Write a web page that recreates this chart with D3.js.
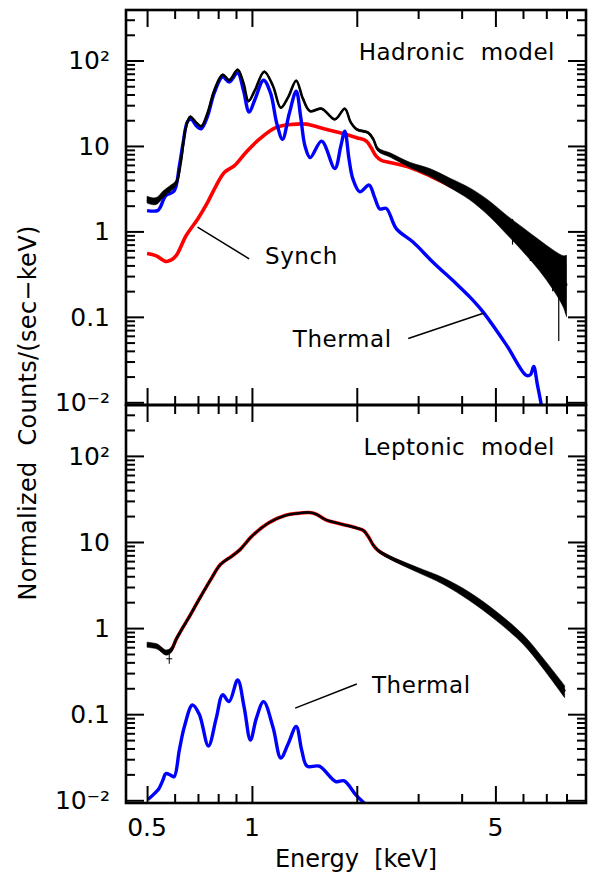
<!DOCTYPE html>
<html>
<head>
<meta charset="utf-8">
<script src="https://cdn.jsdelivr.net/npm/d3@7"></script>
<style>
  body { margin: 0; background: #fff; }
  text { font-family: 'DejaVu Sans', sans-serif; fill: #000; white-space: pre; }
</style>
</head>
<body>
<div id="chart"></div>
<script>
// ---- data: [energy keV, counts/s/keV, half-width of scatter in dex] ----
const hadData = [
  [0.50, 2.35, 0.04], [0.52, 2.25, 0.04], [0.535, 2.3, 0.04], [0.555, 2.7, 0.04], [0.578, 3.1, 0.035],
  [0.606, 3.7, 0.03], [0.625, 6.5, 0.02], [0.645, 16, 0.015], [0.665, 22, 0.01], [0.69, 19, 0.01],
  [0.715, 17, 0.01], [0.745, 24, 0.01], [0.78, 45, 0.01], [0.824, 68, 0.01], [0.861, 59, 0.01],
  [0.91, 78, 0.01], [0.945, 55, 0.01], [0.978, 33.5, 0.01], [1.02, 45, 0.01], [1.085, 74, 0.01],
  [1.15, 50, 0.01], [1.21, 28, 0.01], [1.27, 37, 0.01], [1.34, 58, 0.01], [1.40, 36, 0.01],
  [1.467, 25.6, 0.01], [1.585, 27.3, 0.01], [1.73, 20.5, 0.01], [1.848, 27.3, 0.01], [1.92, 19, 0.01],
  [2.0, 15.6, 0.012], [2.155, 14.3, 0.012], [2.23, 12, 0.015], [2.30, 9.1, 0.02], [2.5, 7.8, 0.025],
  [2.84, 6.0, 0.03], [3.24, 4.9, 0.045], [3.7, 3.7, 0.055], [4.22, 2.75, 0.07], [4.8, 1.85, 0.09],
  [5.38, 1.2, 0.11], [6.0, 0.8, 0.14], [6.7, 0.52, 0.18], [7.3, 0.36, 0.23], [7.83, 0.26, 0.3], [8.0, 0.23, 0.36]
]
const hadSynch = [
  [0.50, 0.55], [0.53, 0.52], [0.566, 0.445], [0.585, 0.46], [0.606, 0.52], [0.647, 0.89], [0.699, 1.4],
  [0.746, 2.19], [0.789, 3.42], [0.833, 4.9], [0.889, 5.85], [0.961, 8.4], [1.05, 12.0], [1.17, 16.4],
  [1.31, 17.9], [1.43, 18.0], [1.60, 16.0], [1.79, 14.3], [2.0, 12.5], [2.13, 11.4], [2.2, 9.5],
  [2.27, 7.65], [2.35, 6.8], [2.49, 6.4], [2.84, 5.6], [3.24, 4.47], [3.70, 3.42], [4.22, 2.62],
  [4.8, 1.8], [5.38, 1.15], [6.0, 0.77], [6.7, 0.5], [7.3, 0.34], [8.0, 0.234]
]
const hadThermal = [
  [0.50, 1.75], [0.536, 1.75], [0.545, 1.9], [0.566, 2.62], [0.598, 2.98], [0.619, 5.85], [0.635, 11],
  [0.654, 19.5], [0.67, 20.5], [0.69, 17.5], [0.715, 15.9], [0.745, 22], [0.78, 42], [0.824, 64.4],
  [0.861, 56], [0.91, 71.7], [0.945, 45], [0.982, 24.9], [1.02, 35], [1.08, 58.8], [1.13, 42],
  [1.18, 18], [1.224, 12.0], [1.28, 24], [1.34, 43.8], [1.38, 22], [1.42, 10], [1.47, 7.3],
  [1.585, 11.4], [1.73, 5.45], [1.80, 10], [1.848, 14.9], [1.9, 7], [1.95, 4.09], [2.04, 2.91],
  [2.17, 3.49], [2.25, 2.5], [2.33, 1.83], [2.43, 1.86], [2.6, 1.07], [2.9, 0.75], [3.31, 0.436],
  [3.86, 0.244], [4.22, 0.171], [4.6, 0.115], [5.38, 0.0467], [6.13, 0.0207], [6.3, 0.021],
  [6.44, 0.0262], [6.6, 0.016], [6.77, 0.0094], [6.85, 0.007]
]
// a few single channels that stick out of the band: [energy, low, high]
const hadSpikes = [[7.6, 0.052, 0.3], [7.95, 0.11, 0.42], [7.3, 0.2, 0.55], [6.3, 0.45, 0.9], [5.6, 0.7, 1.4]]

const lepData = [
  [0.50, 0.64, 0.03], [0.535, 0.61, 0.03], [0.566, 0.52, 0.03], [0.585, 0.55, 0.03], [0.606, 0.74, 0.025],
  [0.63, 0.98, 0.02], [0.654, 1.26, 0.02], [0.705, 2.15, 0.02], [0.762, 3.68, 0.015], [0.813, 5.5, 0.012],
  [0.877, 6.87, 0.01], [0.926, 8.2, 0.01], [1.0, 11.7, 0.008], [1.12, 16.8, 0.008], [1.25, 20.4, 0.008],
  [1.35, 21.5, 0.008], [1.46, 22.0, 0.008], [1.53, 21, 0.008], [1.63, 18.1, 0.008], [1.8, 16.2, 0.008],
  [2.0, 14.5, 0.01], [2.09, 13.6, 0.01], [2.16, 11.5, 0.01], [2.23, 9.2, 0.012], [2.30, 8.0, 0.015],
  [2.49, 6.6, 0.02], [2.97, 4.8, 0.028], [3.54, 3.52, 0.038], [4.2, 2.35, 0.048], [5.03, 1.38, 0.052],
  [6.0, 0.74, 0.055], [6.85, 0.39, 0.06], [7.9, 0.183, 0.07]
]
const lepSynch = [
  [0.50, 0.64], [0.535, 0.61], [0.566, 0.52], [0.585, 0.55], [0.606, 0.74], [0.63, 0.98], [0.654, 1.26],
  [0.705, 2.15], [0.762, 3.68], [0.813, 5.5], [0.877, 6.87], [0.926, 8.2], [1.0, 11.7], [1.12, 16.8],
  [1.25, 20.4], [1.35, 21.5], [1.46, 22.0], [1.53, 21], [1.63, 18.1], [1.8, 16.2], [2.0, 14.5],
  [2.09, 13.6], [2.16, 11.5], [2.23, 9.2], [2.30, 8.0], [2.49, 6.6], [2.97, 4.8], [3.54, 3.52],
  [4.2, 2.35], [5.03, 1.38], [6.0, 0.74], [6.85, 0.39], [7.9, 0.183]
]
const lepThermal = [
  [0.503, 0.0102], [0.523, 0.0118], [0.540, 0.0135], [0.555, 0.0171], [0.566, 0.0204], [0.585, 0.0195],
  [0.598, 0.0188], [0.619, 0.0385], [0.64, 0.072], [0.675, 0.128], [0.706, 0.10], [0.75, 0.0427],
  [0.79, 0.09], [0.824, 0.168], [0.86, 0.14], [0.91, 0.25], [0.95, 0.12], [0.99, 0.05], [1.03, 0.09],
  [1.08, 0.14], [1.15, 0.07], [1.21, 0.031], [1.27, 0.045], [1.34, 0.072], [1.39, 0.038], [1.44, 0.0249],
  [1.56, 0.0249], [1.74, 0.0165], [1.84, 0.0168], [1.99, 0.0115], [2.1, 0.0093]
]
const lepOutliers = [[0.579, 0.44]]

// ---- axes ----
const xMajor = [0.5, 1, 2, 5]
const xMinor = [0.6, 0.7, 0.8, 0.9, 3, 4, 6, 7, 8]
const xLabels = ['0.5', '1', '5']
const yMajor = [0.01, 0.1, 1, 10, 100]
const yLabels = ['10\u207B\u00B2', '0.1', '1', '10', '10\u00B2']

const w = 590
const h = 878
const left = 126
const right = 586

const panels = [
  { top: 10, bottom: 405, title: 'Hadronic  model', data: hadData, synch: hadSynch, thermal: hadThermal,
    spikes: hadSpikes, outliers: [],
    notes: [
      { text: 'Synch', at: [1.09, 0.41], from: [0.698, 1.12], to: [0.982, 0.478] },
      { text: 'Thermal', at: [1.31, 0.0447], from: [2.81, 0.0558], to: [4.64, 0.111] }
    ] },
  { top: 405, bottom: 803, title: 'Leptonic  model', data: lepData, synch: lepSynch, thermal: lepThermal,
    spikes: [], outliers: lepOutliers,
    notes: [
      { text: 'Thermal', at: [2.21, 0.176], from: [1.331, 0.1175], to: [2.0, 0.224] }
    ] }
]

const xScale = d3.scaleLog().domain([0.435, 9.1]).range([left, right])

const svg = d3.select('#chart')
  .append('svg')
  .attr('width', w)
  .attr('height', h)

panels.forEach((p, i) => {
  const yScale = d3.scaleLog().domain([0.0093, 390]).range([p.bottom, p.top])

  const yMinor = []
  for (let k = -3; k <= 2; k++) {
    for (let m = 2; m <= 9; m++) {
      const v = m * Math.pow(10, k)
      if (v > 0.0093 && v < 390) yMinor.push(v)
    }
  }

  svg.append('clipPath').attr('id', 'clip' + i)
    .append('rect')
    .attr('x', left).attr('y', p.top)
    .attr('width', right - left).attr('height', p.bottom - p.top)

  const g = svg.append('g').attr('clip-path', `url(#clip${i})`)

  const line = d3.line()
    .x(d => xScale(d[0]))
    .y(d => yScale(d[1]))
    .curve(d3.curveCatmullRom.alpha(0.5))

  const band = d3.area()
    .x(d => xScale(d[0]))
    .y0(d => yScale(d[1] * Math.pow(10, -d[2])))
    .y1(d => yScale(d[1] * Math.pow(10, d[2])))
    .curve(d3.curveCatmullRom.alpha(0.5))

  g.append('path')
    .datum(p.synch)
    .attr('d', line)
    .attr('fill', 'none')
    .attr('stroke', '#ff0000')
    .attr('stroke-width', 3.6)

  g.append('path')
    .datum(p.thermal)
    .attr('d', line)
    .attr('fill', 'none')
    .attr('stroke', '#0000ff')
    .attr('stroke-width', 3.4)

  g.append('path')
    .datum(p.data)
    .attr('d', band)
    .attr('fill', '#000')
    .attr('stroke', '#000')
    .attr('stroke-width', 0.6)

  g.append('path')
    .datum(p.data)
    .attr('d', line)
    .attr('fill', 'none')
    .attr('stroke', '#000')
    .attr('stroke-width', i === 0 ? 2.6 : 2.2)

  g.selectAll('line.spike')
    .data(p.spikes)
    .enter()
    .append('line')
    .attr('class', 'spike')
    .attr('x1', d => xScale(d[0])).attr('x2', d => xScale(d[0]))
    .attr('y1', d => yScale(d[1])).attr('y2', d => yScale(d[2]))
    .attr('stroke', '#000')
    .attr('stroke-width', 1.2)

  g.selectAll('path.cross')
    .data(p.outliers)
    .enter()
    .append('path')
    .attr('class', 'cross')
    .attr('d', d => {
      const cx = xScale(d[0]), cy = yScale(d[1])
      return `M${cx - 3},${cy}H${cx + 3}M${cx},${cy - 5}V${cy + 5}`
    })
    .attr('stroke', '#000')
    .attr('stroke-width', 1)

  // annotations
  svg.append('text')
    .attr('x', 555)
    .attr('y', p.top + 50)
    .attr('text-anchor', 'end')
    .style('font-size', '23px')
    .style('letter-spacing', '0.5px')
    .text(p.title)

  p.notes.forEach(n => {
    svg.append('line')
      .attr('x1', xScale(n.from[0])).attr('y1', yScale(n.from[1]))
      .attr('x2', xScale(n.to[0])).attr('y2', yScale(n.to[1]))
      .attr('stroke', '#000')
      .attr('stroke-width', 1.5)
    svg.append('text')
      .attr('x', xScale(n.at[0]))
      .attr('y', yScale(n.at[1]))
      .style('font-size', '23px')
      .style('letter-spacing', '0.6px')
      .text(n.text)
  })

  // ticks on all four sides, pointing inward
  const axes = [
    [d3.axisLeft(yScale).tickValues(yMajor).tickSize(-18), `translate(${left},0)`],
    [d3.axisLeft(yScale).tickValues(yMinor).tickSize(-9), `translate(${left},0)`],
    [d3.axisRight(yScale).tickValues(yMajor).tickSize(-18), `translate(${right},0)`],
    [d3.axisRight(yScale).tickValues(yMinor).tickSize(-9), `translate(${right},0)`],
    [d3.axisTop(xScale).tickValues(xMajor).tickSize(-17), `translate(0,${p.top})`],
    [d3.axisTop(xScale).tickValues(xMinor).tickSize(-9), `translate(0,${p.top})`],
    [d3.axisBottom(xScale).tickValues(xMajor).tickSize(-17), `translate(0,${p.bottom})`],
    [d3.axisBottom(xScale).tickValues(xMinor).tickSize(-9), `translate(0,${p.bottom})`]
  ]
  axes.forEach(([ax, tr]) => {
    const a = svg.append('g')
      .attr('transform', tr)
      .call(ax.tickSizeOuter(0).tickFormat(''))
    a.select('.domain').remove()
    a.selectAll('line').attr('stroke', '#000').attr('stroke-width', 2)
  })

  svg.append('g')
    .selectAll('text')
    .data(yMajor)
    .enter()
    .append('text')
    .attr('x', 110)
    .attr('y', d => yScale(d))
    .attr('dy', '0.35em')
    .attr('text-anchor', 'end')
    .style('font-size', '25px')
    .text((d, j) => yLabels[j])

  svg.append('rect')
    .attr('x', left).attr('y', p.top)
    .attr('width', right - left).attr('height', p.bottom - p.top)
    .attr('fill', 'none')
    .attr('stroke', '#000')
    .attr('stroke-width', 2.6)
})

svg.append('g')
  .selectAll('text')
  .data(xLabels)
  .enter()
  .append('text')
  .attr('x', d => xScale(+d))
  .attr('y', 836)
  .attr('text-anchor', 'middle')
  .style('font-size', '25px')
  .text(d => d)

svg.append('text')
  .attr('x', 356)
  .attr('y', 867)
  .attr('text-anchor', 'middle')
  .style('font-size', '24px')
  .text('Energy  [keV]')

svg.append('text')
  .attr('transform', 'translate(36,413) rotate(-90)')
  .attr('text-anchor', 'middle')
  .style('font-size', '24px')
  .style('letter-spacing', '0.3px')
  .text('Normalized  Counts/(sec\u2212keV)')
</script>
</body>
</html>
